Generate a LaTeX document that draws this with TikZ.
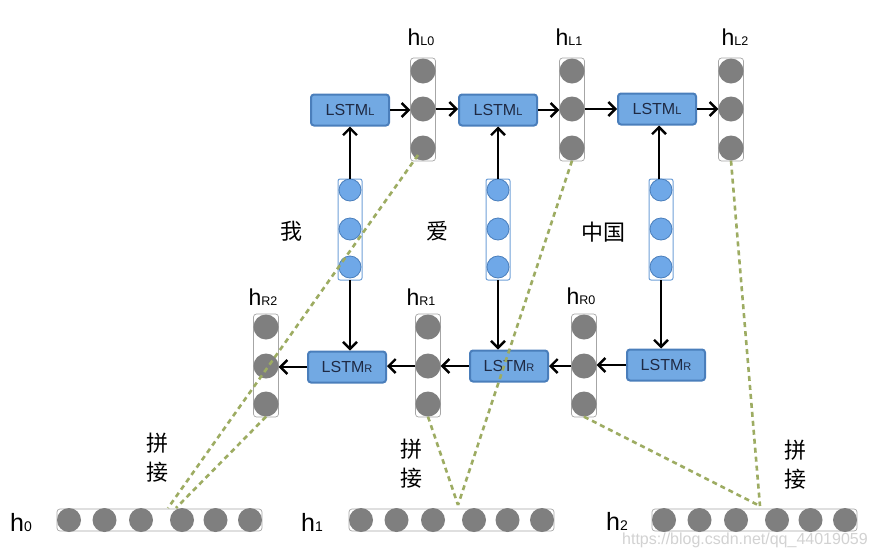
\documentclass[tikz,border=0pt]{standalone}
\usepackage{fontspec}
\setmainfont{Liberation Sans}
\newfontfamily\cjk{Noto Sans CJK SC}
\usetikzlibrary{arrows.meta}
\definecolor{cgray}{HTML}{7F7F7F}
\definecolor{cframe}{HTML}{A6A6A6}
\definecolor{bfill}{HTML}{72A9E3}
\definecolor{bdraw}{HTML}{4A7EBB}
\definecolor{efill}{HTML}{6FA8E8}
\definecolor{eframecol}{HTML}{6FA0D8}
\definecolor{dgreen}{HTML}{9DAC62}
\definecolor{wmark}{HTML}{D2D2D2}
\definecolor{ltext}{HTML}{1F2A44}
\newcommand{\toplab}[1]{{\fontsize{23}{23}\selectfont h}{\fontsize{12.5}{12.5}\selectfont #1}}
\newcommand{\botlab}[1]{{\fontsize{25}{25}\selectfont h}{\fontsize{14}{14}\selectfont #1}}
\newcommand{\lstmlab}[1]{{\fontsize{16}{16}\selectfont LSTM}{\fontsize{11}{11}\selectfont #1}}
\begin{document}
\begin{tikzpicture}[x=1pt,y=-1pt,
  lstm/.style={rectangle,rounded corners=3pt,fill=bfill,draw=bdraw,line width=2pt,minimum width=78pt,minimum height=31pt,inner sep=0pt,text=ltext},
  hc/.style={circle,fill=cgray,minimum size=25pt,inner sep=0pt},
  bc/.style={circle,fill=cgray,minimum size=24pt,inner sep=0pt},
  ec/.style={circle,fill=efill,draw=bdraw,line width=0.8pt,minimum size=22pt,inner sep=0pt},
  hframe/.style={draw=cframe,line width=0.7pt,rounded corners=3pt},
  eframe/.style={draw=eframecol,line width=1pt,rounded corners=2pt},
  arr/.style={-{Straight Barb[length=7pt,width=14pt,line width=2.4pt]},line width=2.5pt},
  dl/.style={draw=dgreen,line width=2.6pt,dash pattern=on 5pt off 4pt},
  lab/.style={inner sep=0pt,anchor=base},
  cj/.style={inner sep=0pt,font=\cjk\fontsize{22}{22}\selectfont},
]
\useasboundingbox (0,0) rectangle (892,555);
\fill[white] (0,0) rectangle (892,555);

% ---- top (left-to-right) LSTM layer ----
\foreach \i/\x in {0/423,1/572,2/731} {
  \draw[hframe] (\x-12.5,58) rectangle (\x+12.5,161);
  \node[hc] (hL\i a) at (\x,71) {};
  \node[hc] (hL\i b) at (\x,109) {};
  \node[hc] (hL\i c) at (\x,148) {};
}
\node[lstm] (L0) at (350,110) {\lstmlab{L}};
\node[lstm] (L1) at (498,110) {\lstmlab{L}};
\node[lstm] (L2) at (657,109) {\lstmlab{L}};

\node[lab] (tL0) at (421,45) {\toplab{L0}};
\node[lab] (tL1) at (569,45) {\toplab{L1}};
\node[lab] (tL2) at (735,45) {\toplab{L2}};

% ---- embeddings ----
\foreach \i/\x in {0/350,1/498,2/661} {
  \draw[eframe] (\x-12,179) rectangle (\x+12,280);
  \node[ec] (e\i a) at (\x,190) {};
  \node[ec] (e\i b) at (\x,229) {};
  \node[ec] (e\i c) at (\x,267) {};
}
\coordinate (e0top) at (350,179);
\coordinate (e0bot) at (350,280);
\coordinate (e1top) at (498,179);
\coordinate (e1bot) at (498,280);
\coordinate (e2top) at (659,179);
\coordinate (e2bot) at (661,280);

\node[cj] (w0) at (291,231) {我};
\node[cj] (w1) at (437,231) {爱};
\node[cj] (w2) at (603,232) {中国};

% ---- bottom (right-to-left) LSTM layer ----
\foreach \i/\x in {2/266,1/428,0/584} {
  \draw[hframe] (\x-12.5,314) rectangle (\x+12.5,417);
  \node[hc] (hR\i a) at (\x,327) {};
  \node[hc] (hR\i b) at (\x,366) {};
  \node[hc] (hR\i c) at (\x,404) {};
}
\node[lstm] (R0) at (347,367) {\lstmlab{R}};
\node[lstm] (R1) at (509,366) {\lstmlab{R}};
\node[lstm] (R2) at (666,365) {\lstmlab{R}};

\node[lab] (tR2) at (263,305) {\toplab{R2}};
\node[lab] (tR1) at (421,305) {\toplab{R1}};
\node[lab] (tR0) at (581,304) {\toplab{R0}};

% ---- output rows ----
\foreach \i/\x in {0/57,1/349,2/652} {
  \draw[hframe] (\x,509) rectangle (\x+205,531);
  \node[bc] (o\i a) at (\x+12,520) {};
  \node[bc] (o\i b) at (\x+47.5,520) {};
  \node[bc] (o\i c) at (\x+84,520) {};
  \node[bc] (o\i d) at (\x+125,520) {};
  \node[bc] (o\i e) at (\x+158.5,520) {};
  \node[bc] (o\i f) at (\x+193,520) {};
}
\node[lab] (b0) at (21,531) {\botlab{0}};
\node[lab] (b1) at (312,531) {\botlab{1}};
\node[lab] (b2) at (617,530) {\botlab{2}};

\node[cj] (p0a) at (157,443) {拼};
\node[cj] (p0b) at (157,472) {接};
\node[cj] (p1a) at (411,449) {拼};
\node[cj] (p1b) at (411,478) {接};
\node[cj] (p2a) at (795,450) {拼};
\node[cj] (p2b) at (795,479) {接};

% ---- arrows ----
\draw[arr] (e0top) -- (e0top |- L0.south);
\draw[arr] (e1top) -- (e1top |- L1.south);
\draw[arr] (e2top) -- (e2top |- L2.south);
\draw[arr] (e0bot) -- (e0bot |- R0.north);
\draw[arr] (e1bot) -- (e1bot |- R1.north);
\draw[arr] (e2bot) -- (e2bot |- R2.north);

\draw[arr] (L0.east) -- (L0.east -| hL0b.west);
\draw[arr] (hL0b.east) -- (hL0b.east -| L1.west);
\draw[arr] (L1.east) -- (L1.east -| hL1b.west);
\draw[arr] (hL1b.east) -- (hL1b.east -| L2.west);
\draw[arr] (L2.east) -- (L2.east -| hL2b.west);

\draw[arr] (R2.west) -- (R2.west -| hR0b.east);
\draw[arr] (hR0b.west) -- (hR0b.west -| R1.east);
\draw[arr] (R1.west) -- (R1.west -| hR1b.east);
\draw[arr] (hR1b.west) -- (hR1b.west -| R0.east);
\draw[arr] (R0.west) -- (R0.west -| hR2b.east);

% ---- concatenation lines ----
\coordinate (j0a) at (168,508);
\coordinate (j0b) at (176,508);
\coordinate (j1) at (458,505);
\coordinate (j2) at (760,506);
\draw[dl] (hL0c.south west) ++(4,-2) -- (j0a);
\draw[dl] (hR2c.south) -- (j0b);
\draw[dl] (hL1c.south) -- (j1);
\draw[dl] (hR1c.south) -- (j1);
\draw[dl] (hR0c.south) -- (j2);
\draw[dl] (hL2c.south) -- (j2);

% ---- watermark ----
\node[inner sep=0pt,anchor=base west,text=wmark,font=\fontsize{16}{16}\selectfont] (wm) at (622,544) {https://blog.csdn.net/qq\_44019059};
\end{tikzpicture}
\end{document}
